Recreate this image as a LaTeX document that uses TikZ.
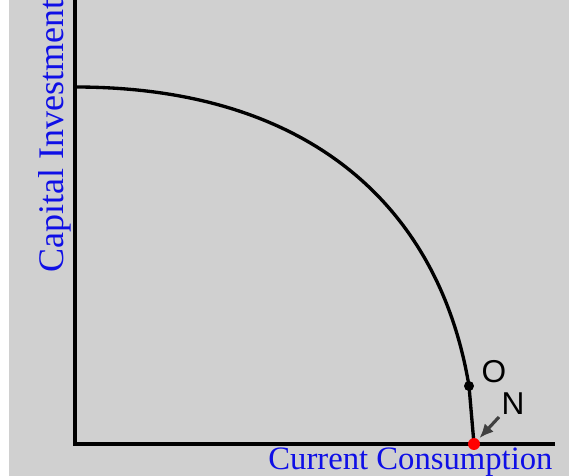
\documentclass[tikz,border=0pt]{standalone}
\usepackage{fontspec}
\setmainfont{Liberation Serif}
\newfontfamily\labelsans{Liberation Sans}
\usetikzlibrary{positioning,calc,arrows.meta}
\definecolor{bggray}{RGB}{208,208,208}
\definecolor{labelblue}{RGB}{15,15,230}
\definecolor{ptrgray}{RGB}{64,64,64}
\tikzset{axisline/.style={draw,black,line width=1.9pt}  }
\tikzset{ppfline/.style={draw,black,line width=1.9pt}  }
\tikzset{bdot/.style={draw=none,circle,fill=black,minimum size=0.2cm,inner sep=0pt}  }
\tikzset{rdot/.style={draw=none,circle,fill=red,minimum size=0.24cm,inner sep=0pt}  }
\tikzset{axislabel/.style={text=labelblue,inner sep=0pt,font=\fontsize{18.6}{20}\selectfont}  }
\tikzset{ptlabel/.style={inner sep=0pt,font=\labelsans\fontsize{18}{20}\selectfont}  }
\tikzset{>={Latex}}

\begin{document}
\begin{tikzpicture}[x=0.02cm,y=-0.02cm]
  % picture measured in pixels, y counted downwards
\useasboundingbox (0,0) rectangle (569,476);
\fill[white] (0,0) rectangle (9,476);
\fill[bggray] (9,0) rectangle (569,476);
\begin{scope}

    \coordinate (ytop) at (75,0);
    \coordinate (orig) at (75,444);
    \coordinate (xend) at (555,444);
    \coordinate (cstart) at (75,87);
    \draw[axisline] (ytop)--(orig)--(xend);

    \node[bdot] (O) at (469,386) {};
    \node[ptlabel] (Olab) at (494,372) {O};
    \draw[ppfline] (cstart) .. controls (311,87) and (439.5,208.5) .. (O.center);
    \draw[ppfline] (O.center)--(474,444);
    \node[rdot] (N) at (474,444) {};
    \node[ptlabel] (Nlab) at (513,404) {N};

    \coordinate (ntail) at (499,417);
    \draw[ptrgray,line width=1.8pt,-{Latex[length=8pt,width=7pt]},shorten >=1pt] (ntail)--(N);

    \node[axislabel,anchor=base] (xlab) at (410.5,470) {Current Consumption};
    \node[axislabel,anchor=base west,rotate=90,font=\fontsize{20.5}{20}\selectfont] (ylab) at (63,273) {Capital Investment};
  \end{scope}
\end{tikzpicture}
\end{document}
